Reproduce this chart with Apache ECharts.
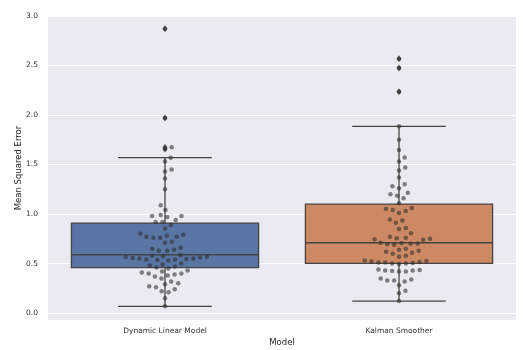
<!DOCTYPE html>
<html>
<head>
<meta charset="utf-8">
<script src="https://cdn.jsdelivr.net/npm/echarts@6/dist/echarts.min.js"></script>
<style>
    html, body { margin: 0; padding: 0; background: #fff; }
    #chart { width: 523px; height: 350px; }
</style>
</head>
<body>
<div id="chart"></div>
<script>
// categories
var modelos = ['Dynamic Linear Model', 'Kalman Smoother'];
var colores = ['#5875a4', '#cc8963'];

// box statistics
var q1 = [0.458, 0.502];
var mediana = [0.589, 0.710];
var q3 = [0.909, 1.101];
var bigoteBajo = [0.068, 0.121];
var bigoteAlto = [1.569, 1.886];

// outliers (fliers)
var atipicosDlm = [2.87, 1.97, 1.674, 1.657];
var atipicosKs = [2.569, 2.475, 2.236];

// individual errors (swarm)
var errDlm = [2.87, 1.97, 1.674, 1.657, 1.569, 1.53, 1.45, 1.43, 1.36, 1.25, 1.09, 1.04,
    0.99, 0.98, 0.98, 0.97, 0.94, 0.92, 0.92, 0.89, 0.855, 0.80, 0.79, 0.78, 0.77, 0.77,
    0.76, 0.76, 0.72, 0.71, 0.66, 0.65, 0.64, 0.63, 0.63, 0.585, 0.58, 0.575, 0.57, 0.565,
    0.56, 0.555, 0.55, 0.55, 0.545, 0.54, 0.54, 0.535, 0.53, 0.50, 0.49, 0.48, 0.47, 0.46,
    0.45, 0.43, 0.42, 0.41, 0.40, 0.40, 0.39, 0.38, 0.37, 0.35, 0.32, 0.30, 0.29, 0.27,
    0.26, 0.24, 0.22, 0.21, 0.15, 0.07];
var errKs = [2.569, 2.475, 2.236, 1.886, 1.75, 1.646, 1.57, 1.53, 1.47, 1.44, 1.37, 1.30,
    1.28, 1.26, 1.215, 1.20, 1.185, 1.16, 1.108, 1.06, 1.05, 1.04, 1.03, 1.01, 0.946, 0.936,
    0.912, 0.86, 0.85, 0.805, 0.77, 0.76, 0.755, 0.75, 0.745, 0.74, 0.71, 0.705, 0.70, 0.70,
    0.695, 0.69, 0.65, 0.64, 0.63, 0.62, 0.61, 0.60, 0.58, 0.57, 0.53, 0.525, 0.52, 0.515,
    0.51, 0.51, 0.505, 0.50, 0.50, 0.495, 0.44, 0.435, 0.43, 0.43, 0.425, 0.42, 0.42, 0.35,
    0.34, 0.33, 0.33, 0.32, 0.28, 0.225, 0.20, 0.121];

var cajas = [];
for (var i = 0; i < modelos.length; i++) {
    cajas.push([i, q1[i], mediana[i], q3[i], bigoteBajo[i], bigoteAlto[i]]);
}
var atipicos = [];
for (var i = 0; i < atipicosDlm.length; i++) {
    atipicos.push([0, atipicosDlm[i]]);
}
for (var i = 0; i < atipicosKs.length; i++) {
    atipicos.push([1, atipicosKs[i]]);
}

var gris = '#444444';

function dibujarCaja(params, api) {
    var x = api.value(0);
    var c = function (xv, yv) { return api.coord([xv, yv]); };
    var a = c(x - 0.4, api.value(3));
    var b = c(x + 0.4, api.value(1));
    var m1 = c(x - 0.4, api.value(2));
    var m2 = c(x + 0.4, api.value(2));
    var lo = c(x, api.value(4));
    var hi = c(x, api.value(5));
    var qb = c(x, api.value(1));
    var qa = c(x, api.value(3));
    var capL = c(x - 0.2, 0);
    var capR = c(x + 0.2, 0);
    var linea = {stroke: gris, lineWidth: 1.3};
    return {
        type: 'group',
        children: [
            {type: 'line', shape: {x1: qb[0], y1: qb[1], x2: lo[0], y2: lo[1]}, style: linea},
            {type: 'line', shape: {x1: qa[0], y1: qa[1], x2: hi[0], y2: hi[1]}, style: linea},
            {type: 'line', shape: {x1: capL[0], y1: lo[1], x2: capR[0], y2: lo[1]}, style: linea},
            {type: 'line', shape: {x1: capL[0], y1: hi[1], x2: capR[0], y2: hi[1]}, style: linea},
            {type: 'rect', shape: {x: a[0], y: a[1], width: b[0] - a[0], height: b[1] - a[1]},
                style: {fill: colores[params.dataIndex], stroke: gris, lineWidth: 1.3}},
            {type: 'line', shape: {x1: m1[0], y1: m1[1], x2: m2[0], y2: m2[1]}, style: linea}
        ]
    };
}

var chart = echarts.init(document.getElementById('chart'), null, {renderer: 'canvas'});
var fuente = 'DejaVu Sans';

chart.setOption({
    animation: false,
    backgroundColor: '#ffffff',
    grid: {
        left: 48, right: 7, top: 16, bottom: 30,
        outerBoundsMode: 'none',
        containLabel: false,
        show: true, backgroundColor: '#eaeaf2', borderWidth: 0
    },
    xAxis: [{
            type: 'category',
            data: modelos,
            name: 'Model',
            nameLocation: 'middle',
            nameGap: 18,
            nameMoveOverlap: false,
            nameTextStyle: {fontFamily: fuente, fontSize: 8.5, color: '#262626'},
            axisLine: {show: false},
            axisTick: {show: false},
            axisLabel: {fontFamily: fuente, fontSize: 7.5, color: '#333333', margin: 7},
            splitLine: {show: false}
        }, {
            type: 'value',
            min: -0.5,
            max: 1.5,
            show: false,
            splitLine: {show: false}
        }],
    yAxis: {
        type: 'value',
        min: -0.07,
        max: 3.0,
        minInterval: 0.5,
        maxInterval: 0.5,
        name: 'Mean Squared Error',
        nameLocation: 'middle',
        nameGap: 25,
        nameMoveOverlap: false,
        nameTextStyle: {fontFamily: fuente, fontSize: 8.5, color: '#262626'},
        axisLine: {show: false},
        axisTick: {show: false},
        axisLabel: {
            fontFamily: fuente, fontSize: 7.5, color: '#333333', margin: 10,
            formatter: function (v) {
                if (Math.abs(v * 2 - Math.round(v * 2)) > 1e-6) {
                    return '';
                }
                return v.toFixed(1);
            }
        },
        splitLine: {lineStyle: {color: '#ffffff', width: 1.2}}
    },
    series: [{
            type: 'custom',
            xAxisIndex: 1,
            renderItem: dibujarCaja,
            encode: {x: 0, y: [1, 2, 3, 4, 5]},
            data: cajas,
            z: 2
        }, {
            type: 'scatter',
            xAxisIndex: 1,
            symbol: 'diamond',
            symbolSize: [5, 7],
            itemStyle: {color: '#3a3a3a'},
            data: atipicos,
            z: 3
        }]
});

// beeswarm: empuja cada punto hacia afuera hasta que no choque
function enjambre(valores, indice) {
    var d = 6.9;
    var xc = chart.convertToPixel({xAxisIndex: 1}, indice);
    var pts = valores.map(function (v) {
        return {v: v, y: chart.convertToPixel({yAxisIndex: 0}, v)};
    }).sort(function (a, b) { return b.y - a.y; });
    var puestos = [];
    var salida = [];
    pts.forEach(function (p) {
        var cand = [xc];
        puestos.forEach(function (q) {
            var dy = Math.abs(q.y - p.y);
            if (dy < d) {
                var dx = Math.sqrt(d * d - dy * dy);
                cand.push(q.x + dx, q.x - dx);
            }
        });
        cand.sort(function (a, b) { return Math.abs(a - xc) - Math.abs(b - xc); });
        var elegido = cand[0];
        for (var k = 0; k < cand.length; k++) {
            var ok = true;
            for (var j = 0; j < puestos.length; j++) {
                var q = puestos[j];
                var ddx = q.x - cand[k], ddy = q.y - p.y;
                if (ddx * ddx + ddy * ddy < d * d - 0.01) { ok = false; break; }
            }
            if (ok) { elegido = cand[k]; break; }
        }
        puestos.push({x: elegido, y: p.y});
        salida.push([chart.convertFromPixel({xAxisIndex: 1}, elegido), p.v]);
    });
    return salida;
}

var puntos = enjambre(errDlm, 0).concat(enjambre(errKs, 1));

chart.setOption({
    series: [{}, {}, {
            type: 'scatter',
            xAxisIndex: 1,
            symbolSize: 4.5,
            itemStyle: {color: 'rgba(45,45,45,0.72)'},
            data: puntos,
            z: 4
        }]
});
</script>
</body>
</html>
